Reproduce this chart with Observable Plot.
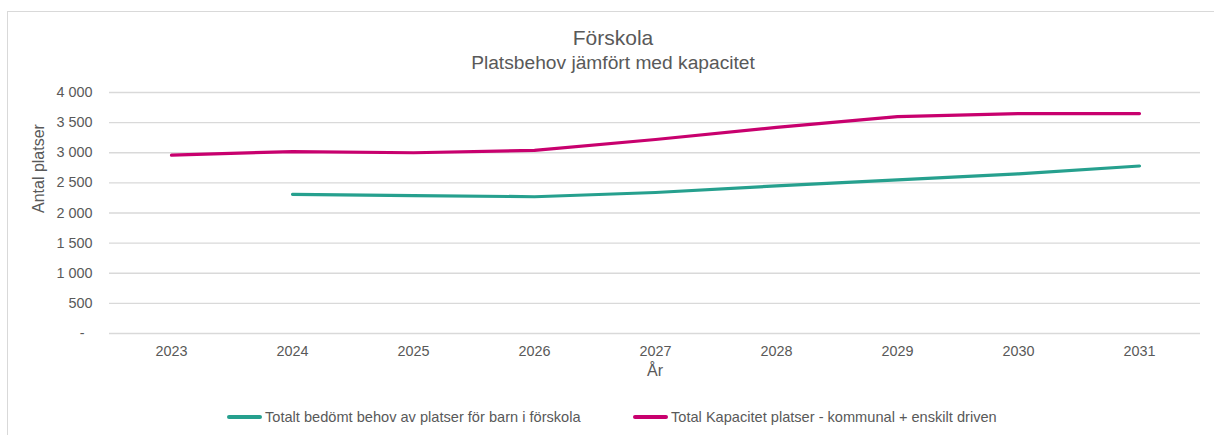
<!DOCTYPE html>
<html>
<head>
<meta charset="utf-8">
<script src="https://cdn.jsdelivr.net/npm/d3@7"></script>
<script src="https://cdn.jsdelivr.net/npm/@observablehq/plot@0.6"></script>
<style>
  html, body { margin: 0; padding: 0; background: #fff; }
  body { font-family: "Liberation Sans", Arial, sans-serif; color: #595959; }
  #wrap { position: relative; width: 1214px; height: 435px; overflow: hidden; }
  #border { position: absolute; left: 7px; top: 11px; width: 1220px; height: 440px; border: 1px solid #d9d9d9; box-sizing: border-box; }
  .title { position: absolute; left: 0; width: 1226px; text-align: center; white-space: nowrap; }
  #t1 { top: 27px; font-size: 21px; line-height: 21px; }
  #t2 { top: 53px; font-size: 19.2px; line-height: 19px; }
  #chart { position: absolute; left: 0; top: 80px; }
  .leg { position: absolute; top: 409px; font-size: 14.6px; line-height: 16px; white-space: nowrap; display: flex; align-items: center; }
  .sw { display: inline-block; width: 35px; height: 4px; border-radius: 2px; margin-right: 3px; }
</style>
</head>
<body>
<div id="wrap">
  <div id="border"></div>
  <div class="title" id="t1"></div>
  <div class="title" id="t2"></div>
  <div id="chart"></div>
  <div id="legend"></div>
</div>
<script>
const title = "Förskola";
const subtitle = "Platsbehov jämfört med kapacitet";
const yLabel = "Antal platser";
const xLabel = "År";
const years = ["2023", "2024", "2025", "2026", "2027", "2028", "2029", "2030", "2031"];
const behov = [null, 2310, 2290, 2270, 2340, 2450, 2550, 2650, 2780];
const kapacitet = [2960, 3020, 3000, 3040, 3220, 3420, 3600, 3650, 3650];
const seriesNames = [
  "Totalt bedömt behov av platser för barn i förskola",
  "Total Kapacitet platser - kommunal + enskilt driven"
];
const seriesColors = ["#26A08E", "#C8006E"];
const yTicks = [0, 500, 1000, 1500, 2000, 2500, 3000, 3500, 4000];

document.getElementById("t1").textContent = title;
document.getElementById("t2").textContent = subtitle;

const rows = [];
years.forEach((yr, i) => {
  rows.push({ year: yr, value: behov[i], series: seriesNames[0] });
});
years.forEach((yr, i) => {
  rows.push({ year: yr, value: kapacitet[i], series: seriesNames[1] });
});

const sv = d3.formatLocale({ decimal: ",", thousands: " ", grouping: [3], currency: ["", " kr"] });
const fmt = sv.format(",");

const chart = Plot.plot({
  width: 1214,
  height: 310,
  marginLeft: 109,
  marginRight: 14,
  marginTop: 12,
  marginBottom: 57,
  style: { fontFamily: "'Liberation Sans', Arial, sans-serif", fontSize: "14px", color: "#595959", background: "transparent" },
  x: { type: "point", domain: years, padding: 0.5, label: null },
  y: { domain: [0, 4000], label: null },
  color: { domain: seriesNames, range: seriesColors },
  marks: [
    Plot.ruleY(yTicks, { stroke: "#d9d9d9", strokeWidth: 1.3 }),
    Plot.axisX({ tickSize: 0, tickPadding: 12, fontSize: 14.4, fill: "#595959", label: null }),
    Plot.axisY({ ticks: yTicks, tickSize: 0, tickPadding: 17, fontSize: 14.4, fill: "#595959",
      tickFormat: d => d === 0 ? "-\u00A0\u00A0" : fmt(d), label: null }),
    Plot.text([xLabel], { frameAnchor: "bottom", dy: 42, fontSize: 16, fill: "#595959", text: d => d }),
    Plot.text([yLabel], { frameAnchor: "left", dx: -71, rotate: -90, fontSize: 16, fill: "#595959", text: d => d }),
    Plot.line(rows, { x: "year", y: "value", z: "series", stroke: "series", strokeWidth: 3.2, strokeLinecap: "round", strokeLinejoin: "round" })
  ]
});
document.getElementById("chart").appendChild(chart);

const legend = document.getElementById("legend");
const legX = [227, 633];
seriesNames.forEach((name, i) => {
  const item = document.createElement("div");
  item.className = "leg";
  item.style.left = legX[i] + "px";
  const sw = document.createElement("span");
  sw.className = "sw";
  sw.style.background = seriesColors[i];
  const tx = document.createElement("span");
  tx.textContent = name;
  item.appendChild(sw);
  item.appendChild(tx);
  legend.appendChild(item);
});
</script>
</body>
</html>
